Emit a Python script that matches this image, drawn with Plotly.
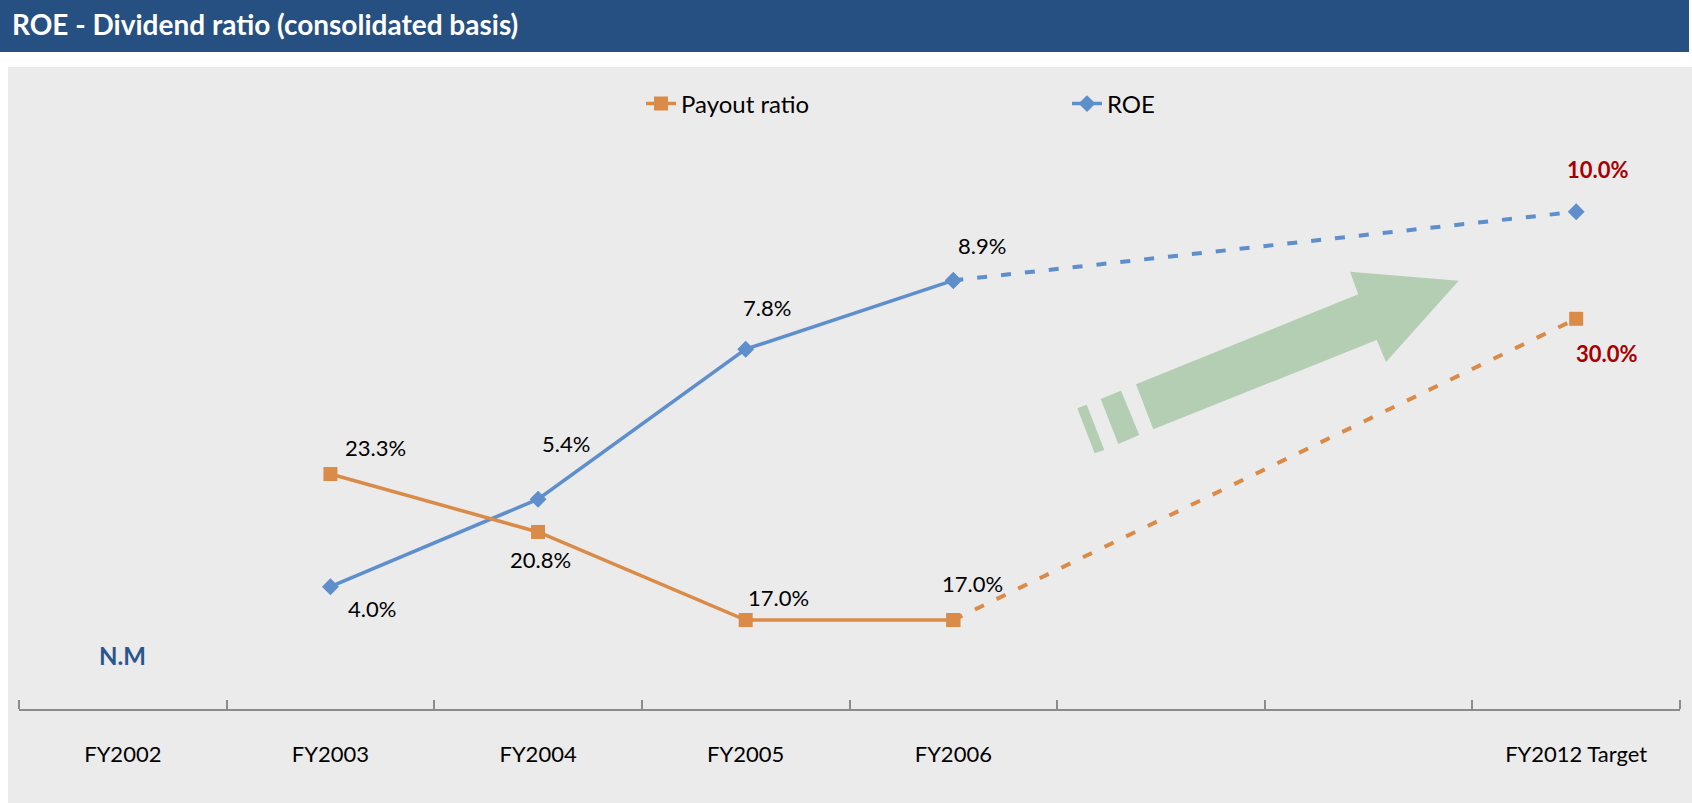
import plotly.graph_objects as go

# ---------------- data ----------------
categories = ["FY2002", "FY2003", "FY2004", "FY2005", "FY2006", " ", "  ", "FY2012 Target"]
actual_cats = ["FY2003", "FY2004", "FY2005", "FY2006"]
roe_actual = [4.0, 5.4, 7.8, 8.9]
payout_actual = [23.3, 20.8, 17.0, 17.0]
target_cats = ["FY2006", "FY2012 Target"]
roe_target = [8.9, 10.0]
payout_target = [17.0, 30.0]
nm_category = "FY2002"
nm_label = "N.M"
title_text = "ROE - Dividend ratio (consolidated basis)"
series_names = ["Payout ratio", "ROE"]

# ---------------- geometry / style ----------------
W, H = 1692, 803
ML, MR, MT, MB = 19, 12, 130, 94
PW, PH = W - ML - MR, H - MT - MB
FONT = "Lato, 'DejaVu Sans', sans-serif"
BLUE = "#5E8FCC"
ORANGE = "#D98B47"
RED = "#A80000"
GREEN = "#B3CEB3"
AXIS_GRAY = "#8C8C8C"
TICK_LEN = 9


def px(x):
    return (x - ML) / PW


def py(y):
    return (H - MB - y) / PH


def poly(points):
    return "M " + " L ".join(f"{px(x):.5f},{py(y):.5f}" for x, y in points) + " Z"


fig = go.Figure()

# Payout ratio (secondary axis)
fig.add_trace(go.Scatter(
    x=actual_cats, y=payout_actual, name=series_names[0], yaxis="y2",
    mode="lines+markers", line=dict(color=ORANGE, width=3.5),
    marker=dict(symbol="square", size=14, color=ORANGE)))
fig.add_trace(go.Scatter(
    x=target_cats, y=payout_target, yaxis="y2", showlegend=False,
    mode="lines+markers", line=dict(color=ORANGE, width=4, dash="10px,14px"),
    marker=dict(symbol="square", size=14, color=ORANGE)))
# ROE (primary axis)
fig.add_trace(go.Scatter(
    x=actual_cats, y=roe_actual, name=series_names[1], yaxis="y",
    mode="lines+markers", line=dict(color=BLUE, width=3.5),
    marker=dict(symbol="diamond", size=13, color=BLUE)))
fig.add_trace(go.Scatter(
    x=target_cats, y=roe_target, yaxis="y", showlegend=False,
    mode="lines+markers", line=dict(color=BLUE, width=4, dash="10px,14px"),
    marker=dict(symbol="diamond", size=13, color=BLUE)))
# empty trace so the category-boundary tick axis gets drawn
fig.add_trace(go.Scatter(x=[], y=[], xaxis="x2", yaxis="y", showlegend=False,
                         hoverinfo="skip", mode="lines"))

# ---------------- data labels ----------------
annotations = []
roe_offsets = [(42, -22), (28, 56), (21, 42), (29, 35)]
payout_offsets = [(45, 27), (2, -28), (33, 23), (19, 37)]
for c, v, (dx, dy) in zip(actual_cats, roe_actual, roe_offsets):
    annotations.append(dict(x=c, y=v, yref="y", text=f"{v:.1f}%", showarrow=False,
                            xshift=dx, yshift=dy, font=dict(size=22, color="black")))
for c, v, (dx, dy) in zip(actual_cats, payout_actual, payout_offsets):
    annotations.append(dict(x=c, y=v, yref="y2", text=f"{v:.1f}%", showarrow=False,
                            xshift=dx, yshift=dy, font=dict(size=22, color="black")))
annotations.append(dict(x=target_cats[1], y=roe_target[1], yref="y", text=f"{roe_target[1]:.1f}%",
                        showarrow=False, xshift=22, yshift=42,
                        font=dict(size=22, color=RED, weight="bold")))
annotations.append(dict(x=target_cats[1], y=payout_target[1], yref="y2", text=f"{payout_target[1]:.1f}%",
                        showarrow=False, xshift=31, yshift=-35,
                        font=dict(size=22, color=RED, weight="bold")))
annotations.append(dict(x=nm_category, xref="x", y=py(655), yref="paper", text=nm_label,
                        showarrow=False, xanchor="center", yanchor="middle",
                        font=dict(size=24, color="#2B5591", weight="bold")))

# ---------------- decorative shapes ----------------
shapes = [
    dict(type="rect", xref="paper", yref="paper", x0=px(8), x1=px(W), y0=py(H), y1=py(67),
         fillcolor="#EBEBEB", line=dict(width=0), layer="below"),
    dict(type="rect", xref="paper", yref="paper", x0=px(0), x1=px(W - 3), y0=py(52), y1=py(0),
         fillcolor="#264F82", line=dict(width=0), layer="below"),
    dict(type="path", xref="paper", yref="paper", layer="below", fillcolor=GREEN, line=dict(width=0),
         path=poly([(1153.3, 429.3), (1136, 384.3), (1358.3, 294.3), (1350, 271.7),
                    (1458.7, 280.7), (1386, 362), (1376.7, 340)])),
    dict(type="path", xref="paper", yref="paper", layer="below", fillcolor=GREEN, line=dict(width=0),
         path=poly([(1100.7, 399), (1121, 390.7), (1139.3, 435), (1118.3, 444)])),
    dict(type="path", xref="paper", yref="paper", layer="below", fillcolor=GREEN, line=dict(width=0),
         path=poly([(1077.3, 408.3), (1086.7, 404.7), (1104.3, 450), (1094.7, 453.3)])),
]
# end ticks of the category axis (plotly drops inside ticks at the plot edges)
for xe in (0, 1):
    shapes.append(dict(type="line", xref="paper", yref="paper", x0=xe, x1=xe,
                       y0=0, y1=TICK_LEN / PH, line=dict(color=AXIS_GRAY, width=2)))

n = len(categories)
boundaries = [i - 0.5 for i in range(n + 1)]

fig.update_layout(
    template="none",
    width=W, height=H,
    margin=dict(l=ML, r=MR, t=MT, b=MB, pad=0, autoexpand=False),
    paper_bgcolor="white", plot_bgcolor="rgba(0,0,0,0)",
    font=dict(family=FONT, color="black"),
    title=dict(text=title_text, xref="container", yref="container", x=12 / W, y=1 - 25 / H,
               xanchor="left", yanchor="middle",
               font=dict(family=FONT, size=28, color="white", weight="bold")),
    xaxis=dict(type="category", categoryorder="array", categoryarray=categories,
               range=[-0.5, n - 0.5], showline=True, linecolor=AXIS_GRAY, linewidth=2,
               ticks="", showgrid=False, zeroline=False, tickfont=dict(size=22, color="black"),
               ticklabelstandoff=25),
    xaxis2=dict(type="linear", overlaying="x", anchor="y", side="bottom",
                range=[-0.5, n - 0.5], tickmode="array", tickvals=boundaries,
                showticklabels=False, ticks="inside", ticklen=TICK_LEN, tickwidth=2,
                tickcolor=AXIS_GRAY, showline=False, showgrid=False, zeroline=False),
    yaxis=dict(range=[2.043, 2.043 + PH / 62.5], visible=False),
    yaxis2=dict(range=[13.159, 13.159 + PH / 23.17], overlaying="y", side="right", visible=False),
    legend=dict(orientation="h", x=px(641), xanchor="left", y=py(104), yanchor="middle",
                entrywidth=381, bgcolor="rgba(0,0,0,0)", font=dict(size=24, color="black"),
                traceorder="normal"),
    showlegend=True,
    annotations=annotations,
    shapes=shapes,
)

fig.write_html("out.html", config={"displayModeBar": False},
               post_script="document.body.style.margin='0';")
